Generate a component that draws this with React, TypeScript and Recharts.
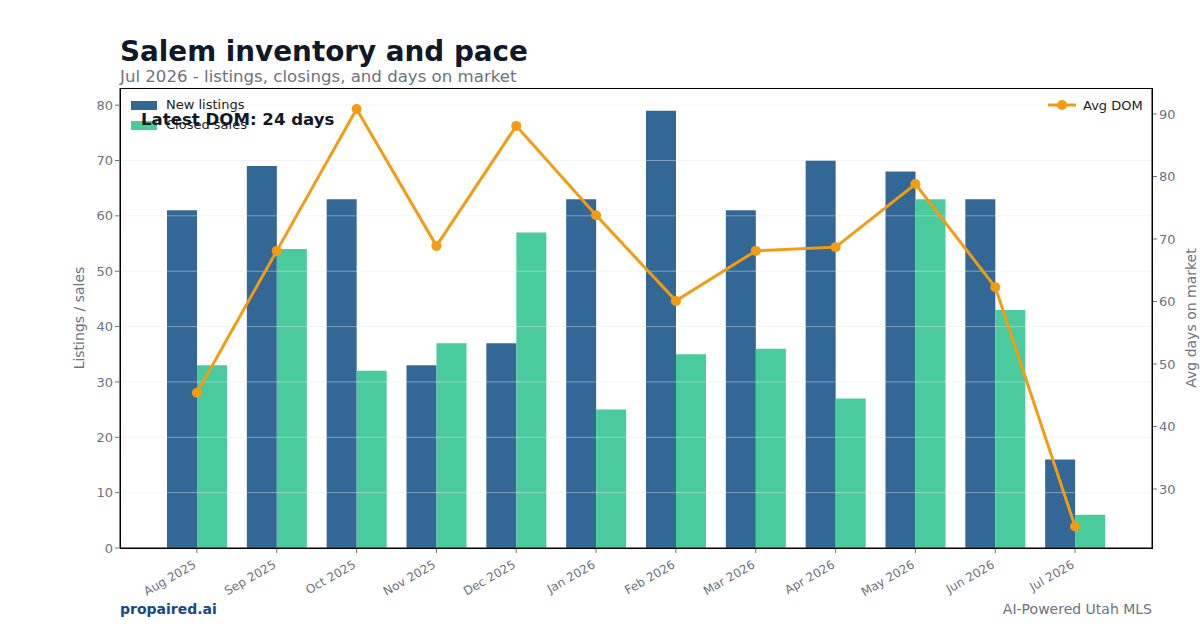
import {
  Bar,
  CartesianGrid,
  ComposedChart,
  Label,
  Line,
  XAxis,
  YAxis,
} from 'recharts'

const months = [
  'Aug 2025', 'Sep 2025', 'Oct 2025', 'Nov 2025', 'Dec 2025', 'Jan 2026',
  'Feb 2026', 'Mar 2026', 'Apr 2026', 'May 2026', 'Jun 2026', 'Jul 2026',
]
const newListings = [61, 69, 63, 33, 37, 63, 79, 61, 70, 68, 63, 16]
const closedSales = [33, 54, 32, 37, 57, 25, 35, 36, 27, 63, 43, 6]
const avgDom = [45.4, 68.1, 90.8, 68.9, 88.1, 73.8, 60.1, 68.1, 68.7, 78.8, 62.3, 24]
const countTicks = [0, 10, 20, 30, 40, 50, 60, 70, 80]
const domTicks = [30, 40, 50, 60, 70, 80, 90]

const data = months.map((month, i) => ({
  month,
  listings: newListings[i],
  closed: closedSales[i],
  dom: avgDom[i],
}))

const FONT = '"DejaVu Sans", sans-serif'
const BLUE = '#336796'
const GREEN = '#4acb9e'
const ORANGE = '#f39c12'
const GRAY = '#6b7280'
const INK = '#111827'

const tickStyle = { fill: GRAY, fontSize: 13, fontFamily: FONT }

function MonthTick({ x, y, payload }: any) {
  return (
    <text
      x={x}
      y={y + 12}
      transform={`rotate(-30 ${x} ${y + 12})`}
      textAnchor="end"
      fill={GRAY}
      fontSize={12}
      fontFamily={FONT}
    >
      {payload.value}
    </text>
  )
}

const latest = avgDom[avgDom.length - 1]

export default function App() {
  return (
    <div style={{ position: 'absolute', left: 0, top: 0, width: 1200, height: 630, background: '#fff', fontFamily: FONT }}>
      <div style={{ position: 'absolute', left: 120, top: 38, fontSize: 27.8, fontWeight: 700, color: INK, lineHeight: 1 }}>
        Salem inventory and pace
      </div>
      <div style={{ position: 'absolute', left: 120, top: 69, fontSize: 16.6, color: GRAY, lineHeight: 1 }}>
        Jul 2026 - listings, closings, and days on market
      </div>

      <ComposedChart
        width={1200}
        height={630}
        data={data}
        margin={{ top: 88, right: 0, bottom: 0, left: 0 }}
        barSize={30}
        barGap={0}
      >
        <XAxis
          dataKey="month"
          height={82}
          padding={{ left: 37, right: 37 }}
          tick={<MonthTick />}
          tickLine={{ stroke: GRAY }}
          tickSize={5}
          axisLine={{ stroke: '#000' }}
          interval={0}
        />
        <YAxis
          yAxisId="count"
          width={120}
          domain={[0, 83.1]}
          ticks={countTicks}
          tick={tickStyle}
          tickLine={{ stroke: GRAY }}
          tickSize={5}
          axisLine={{ stroke: '#000' }}
        >
          <Label
            value="Listings / sales"
            angle={-90}
            position="center"
            dx={19}
            style={{ fill: GRAY, fontSize: 14, fontFamily: FONT }}
          />
        </YAxis>
        <YAxis
          yAxisId="dom"
          orientation="right"
          width={48}
          domain={[20.56, 94.16]}
          ticks={domTicks}
          tick={tickStyle}
          tickLine={{ stroke: GRAY }}
          tickSize={5}
          axisLine={{ stroke: '#000' }}
        >
          <Label
            value="Avg days on market"
            angle={-90}
            position="center"
            dx={15}
            style={{ fill: GRAY, fontSize: 14, fontFamily: FONT }}
          />
        </YAxis>
        <Bar yAxisId="count" dataKey="listings" name="New listings" fill={BLUE} isAnimationActive={false} />
        <Bar yAxisId="count" dataKey="closed" name="Closed sales" fill={GREEN} isAnimationActive={false} />
        {/* light grid sits over the bars, under the line */}
        <CartesianGrid
          yAxisId="count"
          vertical={false}
          stroke="#e5e7eb"
          strokeOpacity={0.45}
          {...({ zIndex: 350 } as any)}
        />
        <Line
          yAxisId="dom"
          dataKey="dom"
          name="Avg DOM"
          stroke={ORANGE}
          strokeWidth={3}
          dot={{ r: 5, fill: ORANGE, stroke: ORANGE, strokeWidth: 0 }}
          isAnimationActive={false}
        />
      </ComposedChart>

      {/* plot frame */}
      <div style={{ position: 'absolute', left: 120, top: 88, width: 1031, height: 459, border: '1px solid #000', pointerEvents: 'none' }} />

      {/* left legend */}
      <div style={{ position: 'absolute', left: 131, top: 95, fontSize: 13, color: '#222', lineHeight: '20px' }}>
        {[['New listings', BLUE], ['Closed sales', GREEN]].map(([name, c]) => (
          <div key={name} style={{ display: 'flex', alignItems: 'center', height: 20 }}>
            <span style={{ width: 26, height: 9, background: c, marginRight: 9 }} />
            {name}
          </div>
        ))}
      </div>

      {/* right legend */}
      <div style={{ position: 'absolute', left: 1048, top: 97, fontSize: 13, color: '#222', display: 'flex', alignItems: 'center', height: 16 }}>
        <svg width={28} height={12} style={{ marginRight: 7 }}>
          <line x1={0} y1={6} x2={28} y2={6} stroke={ORANGE} strokeWidth={3} />
          <circle cx={14} cy={6} r={5} fill={ORANGE} />
        </svg>
        Avg DOM
      </div>

      <div style={{ position: 'absolute', left: 141, top: 110, fontSize: 16.6, fontWeight: 700, color: INK, lineHeight: '20px' }}>
        {`Latest DOM: ${latest} days`}
      </div>

      <div style={{ position: 'absolute', left: 120, top: 601, fontSize: 14, fontWeight: 700, color: '#154a85' }}>
        propaired.ai
      </div>
      <div style={{ position: 'absolute', right: 48, top: 601, fontSize: 14, color: GRAY }}>
        AI-Powered Utah MLS
      </div>
    </div>
  )
}
